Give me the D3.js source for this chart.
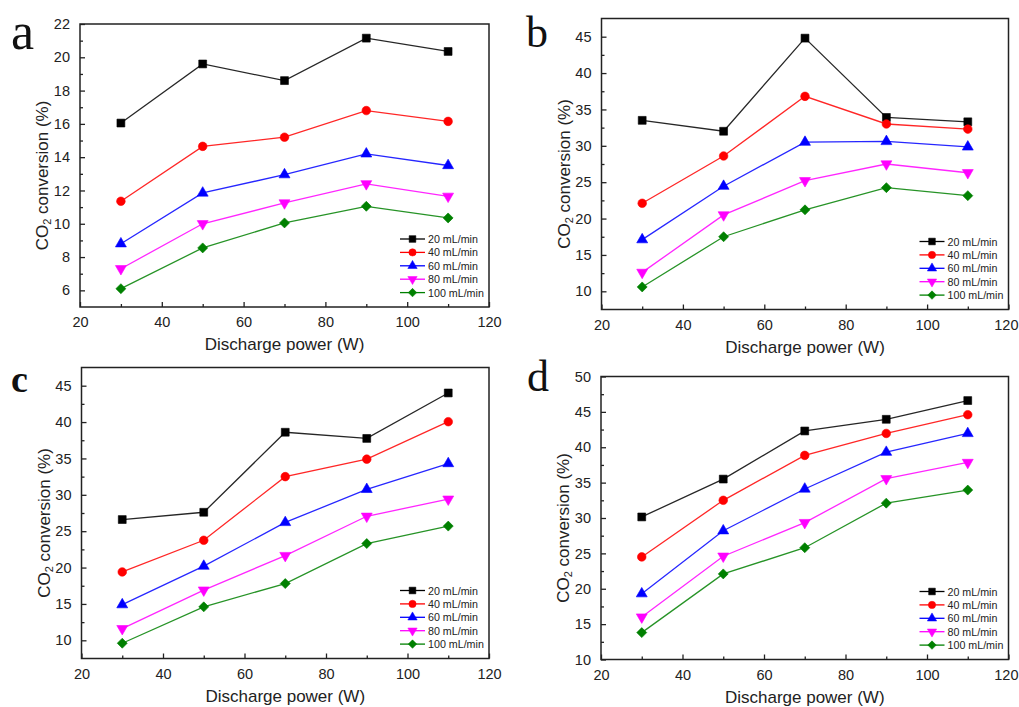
<!DOCTYPE html>
<html>
<head>
<meta charset="utf-8">
<script src="https://cdn.jsdelivr.net/npm/d3@7"></script>
<style>
  html, body { margin: 0; padding: 0; background: #fff; }
  svg { display: block; font-family: "Liberation Sans", Arial, sans-serif; }
</style>
</head>
<body>
<svg id="fig" width="1019" height="707"></svg>
<script>
// Discharge power (W) on the x axis, shared by all panels
const power = [30, 50, 70, 90, 110];
const flowLabels = ["20 mL/min", "40 mL/min", "60 mL/min", "80 mL/min", "100 mL/min"];
const xTicks = [20, 40, 60, 80, 100, 120];

// CO2 conversion (%) per flow rate, one row per flow rate (20 … 100 mL/min)
const convA = [
  [16.05, 19.6, 18.6, 21.15, 20.35],
  [11.35, 14.65, 15.2, 16.8, 16.15],
  [8.8, 11.85, 12.95, 14.2, 13.5],
  [7.3, 10.0, 11.25, 12.4, 11.65],
  [6.1, 8.55, 10.05, 11.05, 10.35]
];
const convB = [
  [33.5, 32.0, 44.8, 33.9, 33.3],
  [22.1, 28.6, 36.8, 33.0, 32.3],
  [17.1, 24.45, 30.5, 30.6, 29.85],
  [12.6, 20.5, 25.2, 27.5, 26.3],
  [10.6, 17.5, 21.2, 24.25, 23.15]
];
const convC = [
  [26.6, 27.6, 38.6, 37.75, 44.0],
  [19.4, 23.75, 32.5, 34.9, 40.05],
  [14.9, 20.2, 26.2, 30.75, 34.3],
  [11.6, 16.9, 21.65, 27.05, 29.4],
  [9.6, 14.6, 17.8, 23.3, 25.7]
];
const convD = [
  [30.15, 35.5, 42.3, 43.95, 46.6],
  [24.5, 32.5, 38.85, 41.95, 44.6],
  [19.3, 28.2, 34.1, 39.3, 41.95],
  [16.0, 24.6, 29.35, 35.55, 37.85],
  [13.8, 22.1, 25.8, 32.1, 33.95]
];

// y-axis tick values per panel
const yTicksA = [6, 8, 10, 12, 14, 16, 18, 20, 22];
const yTicksB = [10, 15, 20, 25, 30, 35, 40, 45];
const yTicksC = [10, 15, 20, 25, 30, 35, 40, 45];
const yTicksD = [10, 15, 20, 25, 30, 35, 40, 45, 50];

// series styling
const colors = ["#000000", "#ff0000", "#0000ff", "#ff00ff", "#008000"];
const markerKinds = ["square", "circle", "triangle", "triangleDown", "diamond"];

const panels = [
  { letter: "a", data: convA, yDomain: [5, 22], yTicks: yTicksA, yMinorStep: 1,
    box: { l: 80, r: 489, t: 24, b: 307 },
    letterPos: [11, 49], letterSize: 52, letterWeight: "normal" },
  { letter: "b", data: convB, yDomain: [7.5, 47.5], yTicks: yTicksB, yMinorStep: 2.5,
    box: { l: 601.5, r: 1008.5, t: 18.5, b: 309.5 },
    letterPos: [526, 47], letterSize: 44, letterWeight: "normal" },
  { letter: "c", data: convC, yDomain: [7.5, 47.5], yTicks: yTicksC, yMinorStep: 2.5,
    box: { l: 81.5, r: 489, t: 367.5, b: 658.5 },
    letterPos: [11, 392], letterSize: 38, letterWeight: "bold" },
  { letter: "d", data: convD, yDomain: [10, 50], yTicks: yTicksD, yMinorStep: 2.5,
    box: { l: 601, r: 1008.5, t: 376.5, b: 659.5 },
    letterPos: [527, 391], letterSize: 44, letterWeight: "normal" }
];

const svg = d3.select("#fig");
const ink = "#222";
const figWidth = 1019;

function markerPath(kind) {
  switch (kind) {
    case "square": return d3.symbol(d3.symbolSquare, 62)();
    case "circle": return d3.symbol(d3.symbolCircle, 58)();
    case "triangle": return d3.symbol(d3.symbolTriangle, 52)();
    case "triangleDown": return d3.symbol(d3.symbolTriangle, 52)();
    case "diamond": return d3.symbol(d3.symbolSquare, 50)();
  }
}
function markerRotate(kind) {
  if (kind === "triangleDown") return 180;
  if (kind === "diamond") return 45;
  return 0;
}

function drawMarker(g, kind, color, x, y) {
  g.append("path")
    .attr("d", markerPath(kind))
    .attr("transform", `translate(${x},${y}) rotate(${markerRotate(kind)})`)
    .attr("fill", color)
    .attr("stroke", color)
    .attr("stroke-width", 0.6);
}

panels.forEach(p => {
  const { l, r, t, b } = p.box;
  const x = d3.scaleLinear().domain([20, 120]).range([l, r]);
  const y = d3.scaleLinear().domain(p.yDomain).range([b, t]);
  const g = svg.append("g");

  // panel letter
  g.append("text")
    .attr("x", p.letterPos[0]).attr("y", p.letterPos[1])
    .attr("font-family", "'Liberation Serif', 'Times New Roman', serif")
    .attr("font-size", p.letterSize)
    .attr("font-weight", p.letterWeight)
    .attr("fill", "#111")
    .text(p.letter);

  // x axis: inward ticks, labels below
  const xAxis = d3.axisBottom(x).tickValues(xTicks).tickSize(-5).tickPadding(10).tickFormat(d3.format("d"));
  const gx = g.append("g").attr("transform", `translate(0,${b})`).call(xAxis);
  const xMinor = d3.axisBottom(x).tickValues(d3.range(30, 120, 20)).tickSize(-3).tickFormat("");
  g.append("g").attr("transform", `translate(0,${b})`).call(xMinor);

  // y axis: inward ticks, labels left
  const yAxis = d3.axisLeft(y).tickValues(p.yTicks).tickSize(-5).tickPadding(10).tickFormat(d3.format("d"));
  g.append("g").attr("transform", `translate(${l},0)`).call(yAxis);
  const minorVals = d3.range(p.yDomain[0], p.yDomain[1] + 0.001, p.yMinorStep)
    .filter(v => !p.yTicks.some(tv => Math.abs(tv - v) < 1e-6) && v > p.yDomain[0] && v < p.yDomain[1]);
  const yMinor = d3.axisLeft(y).tickValues(minorVals).tickSize(-3).tickFormat("");
  g.append("g").attr("transform", `translate(${l},0)`).call(yMinor);

  g.selectAll(".domain").remove();
  g.selectAll(".tick line").attr("stroke", ink).attr("stroke-width", 1.3);
  g.selectAll(".tick text").attr("font-size", 14.5).attr("fill", ink)
    .attr("font-family", "'Liberation Sans', Arial, sans-serif");

  // keep the last x label inside the figure when the panel touches the right edge
  gx.selectAll(".tick text").each(function (d) {
    const node = this;
    const bb = node.getBBox();
    const tx = x(d);
    const right = tx + bb.width / 2;
    if (right > figWidth - 1) {
      d3.select(node).attr("text-anchor", "end").attr("x", figWidth - 1 - tx);
    }
  });

  // frame
  g.append("rect")
    .attr("x", l).attr("y", t).attr("width", r - l).attr("height", b - t)
    .attr("fill", "none").attr("stroke", ink).attr("stroke-width", 1.5);

  // axis titles
  g.append("text")
    .attr("x", (l + r) / 2).attr("y", b + 43)
    .attr("text-anchor", "middle").attr("font-size", 17).attr("fill", ink)
    .text("Discharge power (W)");

  const yl = g.append("text")
    .attr("transform", `translate(${l - 32},${(t + b) / 2 + 10}) rotate(-90)`)
    .attr("text-anchor", "middle").attr("font-size", 17).attr("fill", ink);
  yl.append("tspan").text("CO");
  yl.append("tspan").attr("font-size", 11).attr("dy", 3).text("2");
  yl.append("tspan").attr("dy", -3).text(" conversion (%)");

  // series lines and markers
  const line = d3.line().x((d, i) => x(power[i])).y(d => y(d));
  p.data.forEach((vals, s) => {
    g.append("path").attr("d", line(vals))
      .attr("fill", "none").attr("stroke", colors[s]).attr("stroke-width", 1.3)
      .attr("stroke-opacity", 0.85);
    vals.forEach((v, i) => drawMarker(g, markerKinds[s], colors[s], x(power[i]), y(v)));
  });

  // legend
  const lx = r - 89, ly = b - 68, step = 13.4;
  flowLabels.forEach((lab, s) => {
    const yy = ly + s * step;
    g.append("line").attr("x1", lx).attr("x2", lx + 25).attr("y1", yy).attr("y2", yy)
      .attr("stroke", colors[s]).attr("stroke-width", 1.3);
    g.append("path")
      .attr("d", markerPath(markerKinds[s]))
      .attr("transform", `translate(${lx + 12.5},${yy}) rotate(${markerRotate(markerKinds[s])}) scale(0.85)`)
      .attr("fill", colors[s]).attr("stroke", colors[s]).attr("stroke-width", 0.6);
    g.append("text").attr("x", lx + 28).attr("y", yy + 4)
      .attr("font-size", 10.7).attr("fill", ink).text(lab);
  });
});
</script>
</body>
</html>
